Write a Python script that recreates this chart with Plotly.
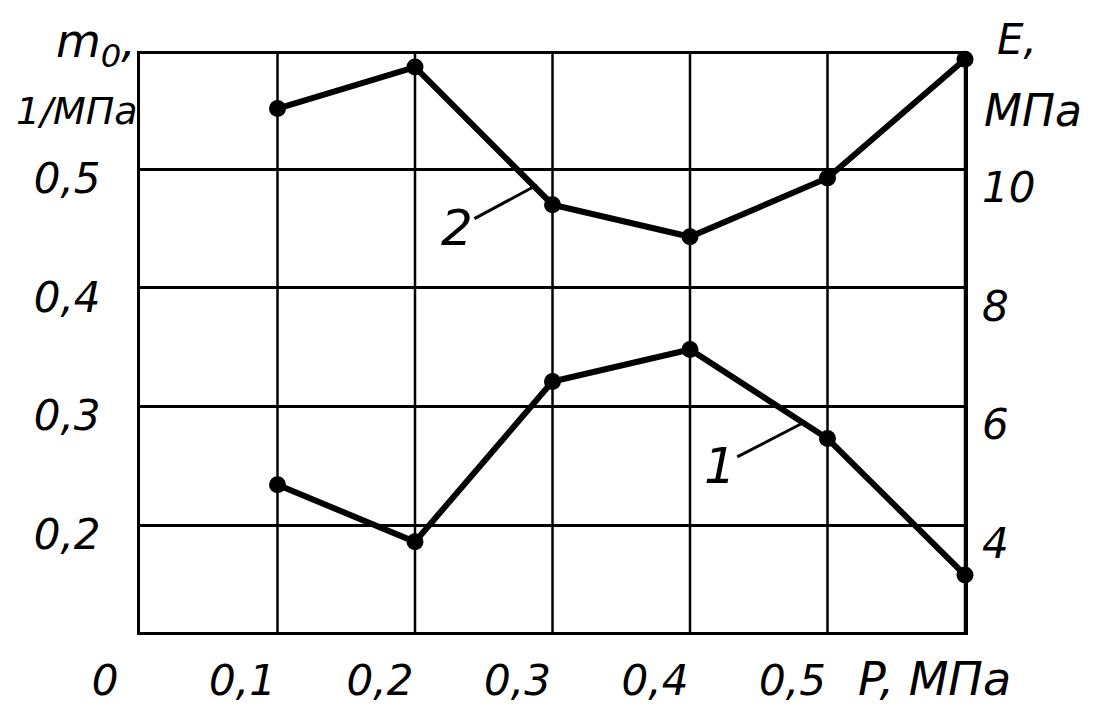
import plotly.graph_objects as go

# Data
P = [0.1, 0.2, 0.3, 0.4, 0.5, 0.6]
m0 = [0.234, 0.186, 0.321, 0.348, 0.273, 0.158]      # curve 1, 1/МПа (left axis)
E = [11.02, 11.72, 9.40, 8.86, 9.85, 11.85]           # curve 2, МПа (right axis)

x_ticks = [0, 0.1, 0.2, 0.3, 0.4, 0.5]
x_text = ["0", "0,1", "0,2", "0,3", "0,4", "0,5"]
yl_ticks = [0.2, 0.3, 0.4, 0.5]
yl_text = ["0,2", "0,3", "0,4", "0,5"]
yr_ticks = [4, 6, 8, 10]
yr_text = ["4", "6", "8", "10"]

FONT = dict(family="DejaVu Sans", size=42, color="black", style="italic")
TFONT = dict(family="DejaVu Sans", size=38, color="black", style="italic")

fig = go.Figure()
fig.add_trace(go.Scatter(x=P, y=m0, mode="lines+markers", yaxis="y",
                         line=dict(color="black", width=6),
                         marker=dict(color="black", size=17),
                         cliponaxis=False, showlegend=False))
fig.add_trace(go.Scatter(x=P, y=E, mode="lines+markers", yaxis="y2",
                         line=dict(color="black", width=6),
                         marker=dict(color="black", size=17),
                         cliponaxis=False, showlegend=False))

fig.update_layout(
    width=1097, height=709,
    margin=dict(l=132, r=140, t=46, b=70),
    paper_bgcolor="white", plot_bgcolor="white",
    font=FONT,
    xaxis=dict(range=[0, 0.6], tickvals=x_ticks, ticktext=x_text,
               showgrid=False, zeroline=False,
               showline=True, linecolor="black", linewidth=3, mirror=True,
               ticks="", ticklabelshift=-35, ticklabelstandoff=10,
               tickfont=FONT),
    yaxis=dict(range=[0.11, 0.597], tickvals=yl_ticks, ticktext=yl_text,
               showgrid=True, gridcolor="black", gridwidth=2.5, zeroline=False,
               showline=True, linecolor="black", linewidth=3, mirror=True,
               ticks="", ticklabelshift=9, ticklabelstandoff=28,
               tickfont=FONT),
    yaxis2=dict(range=[2.2, 11.94], tickvals=yr_ticks, ticktext=yr_text,
                overlaying="y", side="right", showgrid=False, zeroline=False,
                showline=False, ticks="", ticklabelshift=18,
                ticklabelstandoff=16, tickfont=FONT),
)

# vertical grid lines at the P values
for xv in P:
    fig.add_vline(x=xv, line=dict(color="black", width=2.5), layer="below")


def px(x):
    return (x - 140) / 825


def py(y):
    return 1 - (y - 55) / 583


fig.add_annotation(text="m<sub>0</sub>,", xref="paper", yref="paper",
                   x=px(138), y=py(45), xanchor="right", yanchor="middle",
                   showarrow=False,
                   font=dict(family="DejaVu Sans", size=46, color="black",
                             style="italic"))
fig.add_annotation(text="1/МПа", xref="paper", yref="paper",
                   x=px(140), y=py(112), xanchor="right", yanchor="middle",
                   showarrow=False, font=TFONT)
fig.add_annotation(text="E,", xref="paper", yref="paper",
                   x=px(995), y=py(40), xanchor="left", yanchor="middle",
                   showarrow=False,
                   font=dict(family="DejaVu Sans", size=42, color="black",
                             style="italic"))
fig.add_annotation(text="МПа", xref="paper", yref="paper",
                   x=px(982), y=py(112), xanchor="left", yanchor="middle",
                   showarrow=False,
                   font=dict(family="DejaVu Sans", size=44, color="black",
                             style="italic"))
fig.add_annotation(text="P, МПа", xref="paper", yref="paper",
                   x=px(856), y=py(685), xanchor="left", yanchor="middle",
                   showarrow=False,
                   font=dict(family="DejaVu Sans", size=46, color="black",
                             style="italic"))

# curve labels with leader lines
fig.add_annotation(text="2", x=0.2887, y=0.4866, xref="x", yref="y",
                   ax=-80, ay=43, showarrow=True, arrowhead=0,
                   arrowwidth=3, arrowcolor="black", standoff=0,
                   font=dict(family="DejaVu Sans", size=50, color="black"))
fig.add_annotation(text="1", x=0.482, y=0.2861, xref="x", yref="y",
                   ax=-83, ay=43, showarrow=True, arrowhead=0,
                   arrowwidth=3, arrowcolor="black", standoff=0,
                   font=dict(family="DejaVu Sans", size=50, color="black",
                             style="italic"))

fig.write_html("out.html")
